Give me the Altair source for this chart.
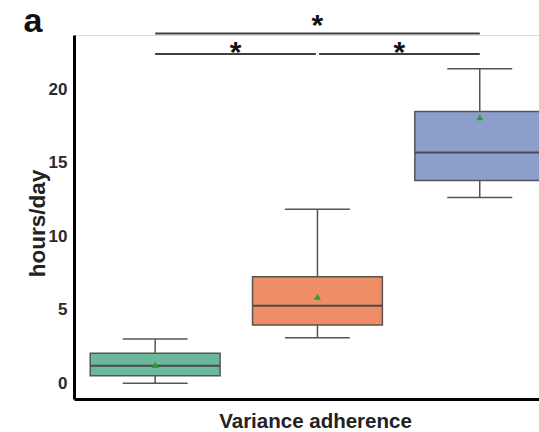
import altair as alt
import pandas as pd

# Box-plot summary per group (hours/day)
groups = ["Group 1", "Group 2", "Group 3"]
positions = [0, 1, 2]
whisker_low = [0.0, 3.1, 12.65]
q1 = [0.52, 3.97, 13.8]
median = [1.2, 5.28, 15.7]
q3 = [2.04, 7.25, 18.5]
whisker_high = [3.01, 11.84, 21.4]
means = [1.25, 5.89, 18.1]
fill_colors = ["#6bb89c", "#ef8d66", "#8c9fcb"]

# Significance brackets: start group, end group, star label
bracket_start = [0.0, 1.01, 0.0]
bracket_end = [0.99, 2.0, 2.0]
bracket_level = ["low", "low", "high"]
star_labels = ["*", "*", "*"]

FONT = "Liberation Sans"
LINE = "#555555"
BOX_HALF = 0.4
CAP_HALF = 0.2
LEVEL_Y = {"low": 22.4, "high": 23.8}
STAR_Y = {"low": 23.0, "high": 24.85}

boxes = pd.DataFrame({
    "group": groups, "pos": positions, "lo": whisker_low, "q1": q1,
    "median": median, "q3": q3, "hi": whisker_high, "mean": means,
    "color": fill_colors,
})

brackets = pd.DataFrame({
    "x1": bracket_start, "x2": bracket_end, "level": bracket_level, "label": star_labels,
})
brackets["y"] = brackets["level"].map(LEVEL_Y)
brackets["ys"] = brackets["level"].map(STAR_Y)
brackets["xm"] = (brackets["x1"] + brackets["x2"]) / 2

x_scale = alt.Scale(domain=[-0.5, 2.365], nice=False, zero=False)
y_scale = alt.Scale(domain=[-1.07, 23.7], nice=False, zero=False)

x_axis = alt.Axis(
    title="Variance adherence", labels=False, ticks=False, grid=False,
    domainColor="black", domainWidth=3, titleFont=FONT, titleFontSize=20.5,
    titleFontWeight="bold", titleColor="#222222", titlePadding=12,
    titleX=241, titleAlign="center",
)
y_axis = alt.Axis(
    title="hours/day", values=[0, 5, 10, 15, 20], ticks=False, grid=False,
    domainColor="black", domainWidth=3, labelFont=FONT, labelFontSize=17,
    labelFontWeight="bold", labelColor="#2a2a2a", labelPadding=7,
    titleFont=FONT, titleFontSize=22.5, titleFontWeight="bold", titleColor="#222222",
    titleX=-37, titleY=188, titleAlign="center", titleBaseline="middle", titleAngle=270,
)

base = alt.Chart(boxes).transform_calculate(
    left=f"datum.pos - {BOX_HALF}", right=f"datum.pos + {BOX_HALF}",
    cl=f"datum.pos - {CAP_HALF}", cr=f"datum.pos + {CAP_HALF}",
)

whiskers_low = base.mark_rule(color=LINE, strokeWidth=1.5, clip=True).encode(
    x=alt.X("pos:Q", scale=x_scale, axis=x_axis),
    y=alt.Y("lo:Q", scale=y_scale, axis=y_axis),
    y2="q1:Q",
)
whiskers_high = base.mark_rule(color=LINE, strokeWidth=1.5, clip=True).encode(
    x="pos:Q", y="q3:Q", y2="hi:Q",
)
caps_low = base.mark_rule(color=LINE, strokeWidth=1.5, clip=True).encode(
    x="cl:Q", x2="cr:Q", y="lo:Q",
)
caps_high = base.mark_rule(color=LINE, strokeWidth=1.5, clip=True).encode(
    x="cl:Q", x2="cr:Q", y="hi:Q",
)
box_rect = base.mark_rect(stroke=LINE, strokeWidth=1.5, clip=True).encode(
    x="left:Q", x2="right:Q", y="q1:Q", y2="q3:Q",
    fill=alt.Fill("color:N", scale=None),
)
median_line = base.mark_rule(color="#4a4a4a", strokeWidth=2, clip=True).encode(
    x="left:Q", x2="right:Q", y="median:Q",
)
mean_pt = base.mark_point(shape="triangle-up", filled=True, color="#2ca02c",
                          size=50, opacity=1, clip=True).encode(
    x="pos:Q", y="mean:Q",
)

bracket_lines = alt.Chart(brackets).mark_rule(color="#3f3f3f", strokeWidth=2).encode(
    x="x1:Q", x2="x2:Q", y="y:Q",
)
stars = alt.Chart(brackets).mark_text(
    font=FONT, fontSize=30, fontWeight="bold", color="#111111",
    baseline="alphabetic", align="center", dy=17,
).encode(x="xm:Q", y="ys:Q", text="label:N")

panel_letter = alt.Chart(pd.DataFrame({"t": ["a"]})).mark_text(
    font=FONT, fontSize=34, fontWeight="bold", color="#111111",
    baseline="alphabetic", align="center",
).encode(x=alt.value(-41), y=alt.value(-3), text="t:N")

chart = alt.layer(
    whiskers_low, whiskers_high, caps_low, caps_high, box_rect, median_line,
    mean_pt, bracket_lines, stars, panel_letter,
).properties(
    width=465, height=364,
    autosize=alt.AutoSizeParams(type="none"),
    padding={"left": 74, "top": 35, "right": 0, "bottom": 33},
).configure_view(stroke=None).configure(background="white")

chart.save("out.html", embed_options={"renderer": "svg", "actions": False})
